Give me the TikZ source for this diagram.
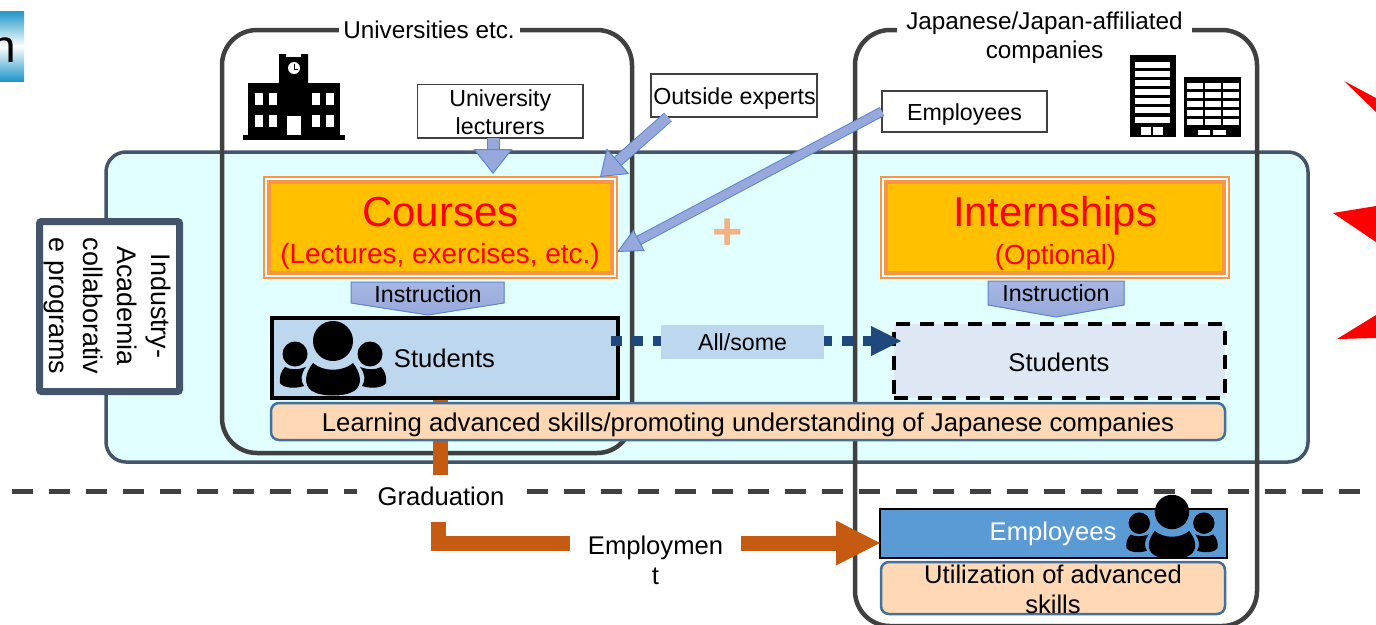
\documentclass[tikz,border=0pt]{standalone}
\usepackage{fontspec}
\setmainfont{Liberation Sans}
\usetikzlibrary{arrows.meta,calc}
\definecolor{panelfill}{HTML}{E2FFFF}
\definecolor{panelline}{HTML}{44546A}
\definecolor{framegray}{HTML}{404040}
\definecolor{gold}{HTML}{FFC000}
\definecolor{orangeline}{HTML}{F79646}
\definecolor{lightblue}{HTML}{BDD7EE}
\definecolor{paleblue}{HTML}{DEE8F5}
\definecolor{peach}{HTML}{FFD9B5}
\definecolor{peachline}{HTML}{41719C}
\definecolor{midblue}{HTML}{5B9BD5}
\definecolor{navy}{HTML}{1F497D}
\definecolor{rust}{HTML}{C55A11}
\definecolor{arrowfill}{HTML}{97A9DC}
\definecolor{arrowline}{HTML}{5B86CF}
\definecolor{teal}{HTML}{1E96C8}
\definecolor{plusc}{HTML}{F4B183}
\tikzset{
  base/.style={inner sep=0pt,outer sep=0pt,align=center,text=black,font=\fontsize{25.6}{30}\selectfont},
  frame/.style={base,draw=framegray,line width=4.5pt,rounded corners=35pt},
  framelabel/.style={base,fill=white,font=\fontsize{24.3}{29}\selectfont},
  smallbox/.style={base,draw=framegray,line width=1.5pt,fill=white},
  smalltext/.style={base,font=\fontsize{23.2}{28}\selectfont},
  outerbox/.style={base,draw=orangeline,line width=1.3pt,fill=white},
  innerbox/.style={base,draw=orangeline,line width=4.5pt,fill=gold,text=red},
  bar/.style={base,draw=peachline,line width=2.5pt,fill=peach,rounded corners=8pt},
  blockarrow/.style={draw=arrowline,line width=1pt,double=arrowfill,double distance=#1},
  headtip/.style n args={2}{-{Triangle[length=#1,width=#2,line width=1pt,fill=arrowfill,color=arrowline]}},
  rustline/.style={draw=rust,line width=15pt},
  dashline/.style={draw=framegray,line width=5pt,dash pattern=on 21pt off 15.9pt}
}
\newcommand{\peopleicon}[3]{%
  \begin{scope}[shift={(#1,#2)},scale=#3]
    \fill[black] (0,0) circle[radius=20];
    \fill[black] (-38,13) circle[radius=12.5];
    \fill[black] (37,13) circle[radius=12.5];
    \fill[black] (-20,22) .. controls (-10,31) and (10,31) .. (20,22)
      .. controls (28,32) and (30,44) .. (21,50)
      .. controls (12,56) and (-12,56) .. (-21,50)
      .. controls (-30,44) and (-28,32) .. (-20,22) -- cycle;
    \foreach \sgn in {1,-1}{
      \fill[black,xscale=\sgn] (-48,26) .. controls (-43,29) and (-35,29) .. (-27,26)
        .. controls (-32,32) and (-33,40) .. (-29,45)
        .. controls (-38,48) and (-50,47) .. (-53,42)
        .. controls (-54,36) and (-52,30) .. (-48,26) -- cycle;
    }
  \end{scope}}
\begin{document}
\begin{tikzpicture}[x=1pt,y=-1pt]
\useasboundingbox (0,0) rectangle (1376,624);
% top-left fragment
\path[top color=teal,bottom color=teal,middle color=white] (0,11) rectangle (24,81);
\node[base,anchor=base east,font=\fontsize{46}{50}\selectfont] (fragment) at (16,62) {n};
% red fragments
\fill[red] (1344,81) -- (1376,98) -- (1376,112) -- cycle;
\fill[red] (1333,213) -- (1376,206) -- (1376,242) -- cycle;
\fill[red] (1337,339) -- (1376,315) -- (1376,338) -- cycle;
% panel and frames
\node[base,draw=panelline,line width=3.5pt,fill=panelfill,rounded corners=20pt,minimum width=1202pt,minimum height=310pt] (panel) at (707,307) {};
\node[frame,minimum width=410pt,minimum height=423pt] (uni) at (427,241.5) {};
\node[frame,minimum width=402pt,minimum height=596pt] (comp) at (1056,328) {};
\node[framelabel,minimum width=181pt,minimum height=22pt] (unilabel) at (429,30) {Universities etc.};
\node[framelabel,minimum width=295pt] (complabel) at (1044.5,38) {Japanese/Japan-affiliated\\companies};
% university icon
\fill[black] (243,135) rectangle (345,140);
\fill[black] (248,83) rectangle (340,137);
\fill[black] (279,54) -- (286,54) -- (286,57) -- (301,57) -- (301,54) -- (308,54) -- (308,84) -- (279,84) -- cycle;
\fill[white] (294,68) circle[radius=6];
\draw[black,line width=1pt] (294,64) -- (294,69) -- (298,69);
\foreach \wx in {255,269,312,326}{\foreach \wy in {93,115}{\fill[white] (\wx,\wy) rectangle ++(7.5,12);}}
\fill[white] (287,116) rectangle (301,135);
% company icon
\fill[black] (1130,55) rectangle (1176,137);
\foreach \ry in {62,71,80,89,98,107,117}{\fill[white] (1135,\ry) rectangle (1170,\ry+5.5);}
\fill[white] (1141,127) rectangle (1151,135);
\fill[white] (1153,127) rectangle (1163,135);
\fill[black] (1184,77) rectangle (1241,137);
\foreach \ry in {83,92,101,110,119}{\foreach \cx in {1187,1205,1223}{\fill[white] (\cx,\ry) rectangle (\cx+15.5,\ry+6);}}
\fill[white] (1198,130) rectangle (1210,135);
\fill[white] (1213,130) rectangle (1226,135);
% courses and internships
\node[outerbox,minimum width=353pt,minimum height=101pt] (courses) at (440.5,227.5) {};
\node[innerbox,minimum width=343pt,minimum height=91pt] (coursesin) at (440.5,227.5) {};
\node[base,text=red,font=\fontsize{42}{48}\selectfont] (coursestitle) at (440.5,212) {Courses};
\node[base,text=red,font=\fontsize{27.9}{32}\selectfont] (coursessub) at (440,256) {(Lectures, exercises, etc.)};
\node[outerbox,minimum width=348pt,minimum height=101pt] (intern) at (1055,227.5) {};
\node[innerbox,minimum width=338pt,minimum height=91pt] (internin) at (1055,227.5) {};
\node[base,text=red,font=\fontsize{41.7}{48}\selectfont] (interntitle) at (1055,216) {Internships};
\node[base,text=red,font=\fontsize{27.6}{32}\selectfont] (internsub) at (1055.5,257) {(Optional)};
% source boxes
\node[smallbox,minimum width=165.5pt,minimum height=53.5pt] (lecturers) at (500.2,111.2) {};
\node[smalltext] (lecturerstext) at (500.2,112.2) {University\\lecturers};
\node[smallbox,minimum width=166pt,minimum height=43pt] (experts) at (734,95.5) {};
\node[smalltext] (expertstext) at (734.5,98.5) {Outside experts};
\node[smallbox,minimum width=165pt,minimum height=41pt] (staff) at (964.5,111.5) {};
\node[smalltext] (stafftext) at (964.5,114.5) {Employees};
% block arrows
\draw[blockarrow=11pt,headtip={25pt}{39pt}] (lecturers.south -| 493,0) -- (493,174);
\draw[blockarrow=9.5pt,headtip={24pt}{34pt}] ($(experts.south west)+(17,0)$) -- ($(courses.north east)+(-17,0)$);
\draw[blockarrow=8pt,headtip={25pt}{24pt}] (staff.west) -- ($(courses.east)+(0,24.5)$);
% plus
\node[base,text=plusc,font=\fontsize{52}{52}\bfseries\selectfont] (plus) at (728,234) {+};
% instruction pentagons
\fill[top color=arrowfill!85!white,bottom color=arrowfill] (351,282) -- (504,282) -- (504,303) -- (428,315) -- (351,303) -- cycle;
\draw[arrowline,line width=1pt] (351,282) -- (504,282) -- (504,303) -- (428,315) -- (351,303) -- cycle;
\node[smalltext] (instrL) at (428,294) {Instruction};
\fill[top color=arrowfill!85!white,bottom color=arrowfill] (988,281) -- (1124,281) -- (1124,305) -- (1056,317) -- (988,305) -- cycle;
\draw[arrowline,line width=1pt] (988,281) -- (1124,281) -- (1124,305) -- (1056,317) -- (988,305) -- cycle;
\node[smalltext] (instrR) at (1056,293) {Instruction};
% graduation and employment
\node[base,fill=white,minimum width=170pt,minimum height=47pt] (graduation) at (442,498.5) {};
\node[base] (graduationtext) at (441,496.5) {Graduation};
\node[base,fill=white,minimum width=171pt,minimum height=60pt] (employment) at (655.5,560) {Employmen\\t};
\node[base,draw=black,line width=2pt,fill=midblue,minimum width=347pt,minimum height=49pt] (employees) at (1053.5,533.5) {};
\node[base,text=white] (employeestext) at (1053,534) {Employees};
\draw[rustline] (440.5,399) -- (graduation.north -| 440.5,0);
\draw[rustline,line join=miter] (graduation.south -| 438.5,0) -- (438.5,543) -- ($(employment.west)+(0,-17)$);
\draw[rustline,-{Triangle[length=44pt,width=45pt,color=rust,fill=rust,line width=0pt]}] ($(employment.east)+(0,-17)$) -- ($(employees.west)+(0,9.5)$);
% dashed divider
\coordinate (divL) at (12,491);
\coordinate (divR) at (1376,491);
\draw[dashline] (divL) -- (graduation.west |- divL);
\draw[dashline] (graduation.east |- divR) -- (divR);
% students
\node[base,draw=black,line width=4pt,fill=lightblue,minimum width=346pt,minimum height=80pt] (studentsL) at (445,358) {};
\node[base] (studentsLtext) at (444.5,358) {Students};
\peopleicon{333}{341}{1}
\node[base,draw=black,line width=4pt,dash pattern=on 14pt off 10pt,fill=paleblue,minimum width=331pt,minimum height=74pt] (studentsR) at (1059.5,361) {};
\node[base] (studentsRtext) at (1059,362) {Students};
\draw[navy,line width=10pt,dash pattern=on 11pt off 10pt,-{Triangle[length=30pt,width=30pt,color=navy,fill=navy,line width=0pt]}] ($(studentsL.east)+(-7,-17)$) -- ($(studentsR.west)+(7,-20)$);
\node[base,fill=lightblue,font=\fontsize{23.2}{28}\selectfont,minimum width=163pt,minimum height=34pt] (allsome) at (742.5,342) {All/some};
% bars
\node[bar,minimum width=954pt,minimum height=37pt] (learning) at (748,421.5) {};
\node[base,font=\fontsize{25.72}{30}\selectfont] (learningtext) at (748,424.5) {Learning advanced skills/promoting understanding of Japanese companies};
\node[bar,minimum width=344pt,minimum height=52pt] (util) at (1053,588) {};
\node[base] (utiltext) at (1053,589) {Utilization of advanced\\skills};
\peopleicon{1172}{512}{0.86}
% left label
\node[base,draw=panelline,line width=7pt,fill=white,rounded corners=2pt,minimum width=140pt,minimum height=170pt] (program) at (109.5,306.5) {};
\node[base,rotate=-90,font=\fontsize{26.9}{33.7}\selectfont] (programtext) at (107.5,306) {Industry-\\Academia\\collaborativ\\e programs};
\end{tikzpicture}
\end{document}
